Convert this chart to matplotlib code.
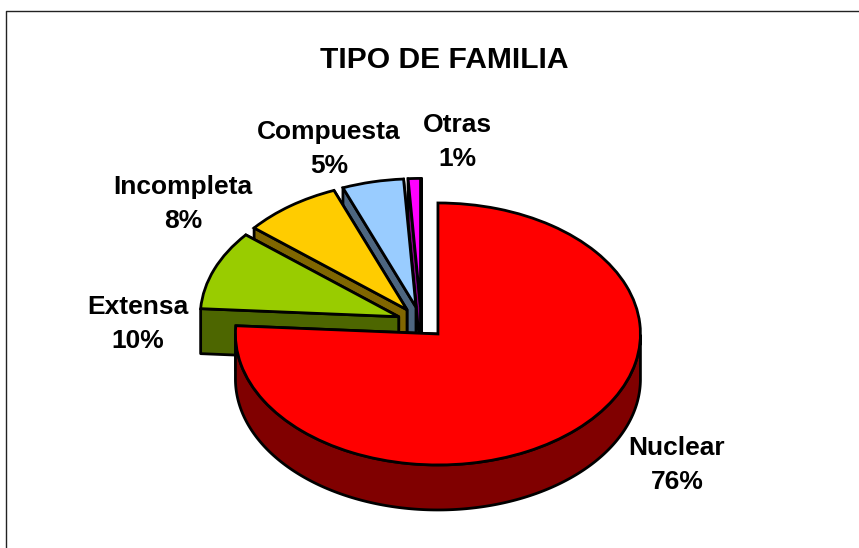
#!/usr/bin/env python3
import numpy as np
import matplotlib
matplotlib.use("Agg")
import matplotlib.pyplot as plt
from matplotlib.colors import to_rgb
from matplotlib.patches import Polygon
from matplotlib.transforms import Affine2D

# data
categories = ["Nuclear", "Extensa", "Incompleta", "Compuesta", "Otras"]
values = [76, 10, 8, 5, 1]
colors = ["#FF0000", "#99CC00", "#FFCC00", "#99CCFF", "#FF00FF"]

# label centres in image pixels
label_pos = [(677, 465), (138, 324), (183, 204), (329, 149), (457, 142)]

W, H = 859, 548
CX, CY = 421.3, 322.5   # pie centre before explosion
RX, RY = 202.5, 131     # ellipse radii
DEPTH = 45 / RY         # pie thickness in pie units
EXPLODE = 0.12
SMALL_R = 0.98          # the exploded slices sit a bit smaller than the main one
LW = 2.0

plt.rcParams["font.family"] = ["Liberation Sans", "DejaVu Sans"]
plt.rcParams["font.weight"] = "bold"

fig = plt.figure(figsize=(W / 100, H / 100), dpi=100, facecolor="white")
ax = fig.add_axes([0, 0, 1, 1])

wedges, _ = ax.pie(values, colors=colors, explode=[EXPLODE] * len(values),
                   startangle=90, counterclock=False, radius=1,
                   wedgeprops=dict(edgecolor="black", linewidth=LW))
for w in wedges[1:]:
    w.set_radius(SMALL_R)

# squash the pie: one pie unit is RX px across and RY px down
ax.set_aspect("auto")
ax.set_xlim(-CX / RX, (W - CX) / RX)
ax.set_ylim((CY - H) / RY, CY / RY)
ax.axis("off")


def side_walls(w):
    # radial faces plus the part of the rim that looks toward the viewer
    c = np.array(w.center)
    polys = []
    for t in (w.theta1, w.theta2):
        a = np.radians(t)
        p = c + w.r * np.array([np.cos(a), np.sin(a)])
        polys.append([c, p, p - [0, DEPTH], c - [0, DEPTH]])
    a = np.radians(np.linspace(w.theta1, w.theta2, 300))
    a = a[np.sin(a) <= 0]
    if len(a) > 1:
        rim = c + w.r * np.column_stack([np.cos(a), np.sin(a)])
        polys.append(np.vstack([rim, (rim - [0, DEPTH])[::-1]]))
    return polys


n = len(wedges)
for i, (w, col) in enumerate(zip(wedges, colors)):
    z = 10 + 2 * (n - i)
    w.set_zorder(z)
    dark = tuple(0.5 * v for v in to_rgb(col))
    for poly in side_walls(w):
        ax.add_patch(Polygon(poly, closed=True, facecolor=dark, edgecolor="black",
                             linewidth=LW, joinstyle="round", zorder=z - 1))

# everything else is placed in image pixels
px = Affine2D().scale(1 / W, -1 / H).translate(0, 1) + fig.transFigure

ax.plot([6, 6, W], [H, 11, 11], color="#222222", lw=1.0, transform=px,
        clip_on=False, zorder=30)

ax.text(444, 60, "TIPO DE FAMILIA", transform=px, fontsize=21.6, ha="center",
        va="center", color="black", zorder=31)

for name, v, (x, y) in zip(categories, values, label_pos):
    ax.text(x, y, f"{name}\n{v}%", transform=px, fontsize=19, ha="center",
            va="center", multialignment="center", linespacing=1.55,
            color="black", zorder=31)

fig.savefig("out.png", dpi=100, facecolor="white")
